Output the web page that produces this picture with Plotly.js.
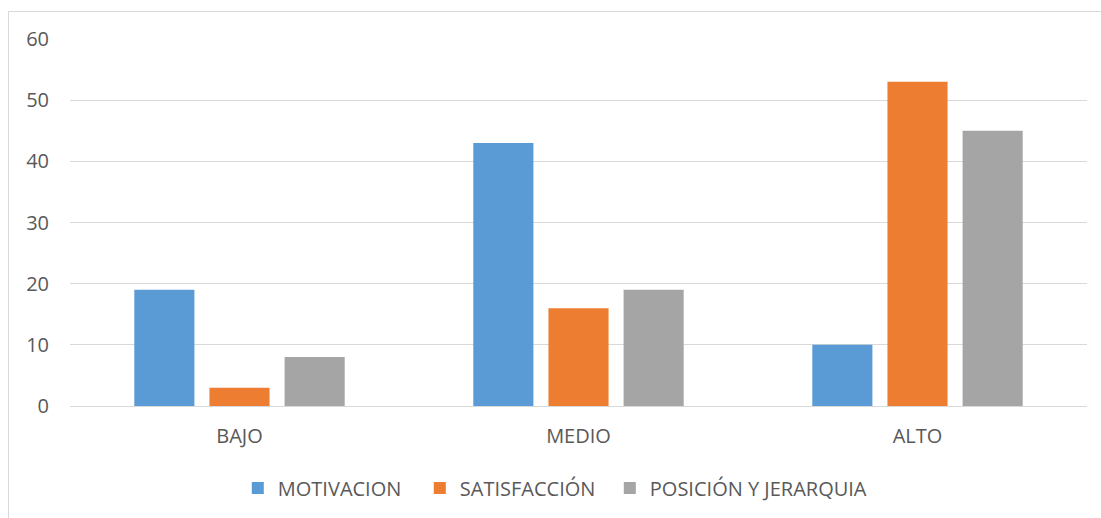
<!DOCTYPE html>
<html>
<head>
<meta charset="utf-8">
<script src="https://cdn.plot.ly/plotly-3.0.1.min.js"></script>
<style>
  html, body { margin: 0; padding: 0; background: #ffffff; overflow: hidden; }
  #frame { position: absolute; left: 8px; top: 11px; width: 1300px; height: 700px;
           border-left: 1px solid #d9d9d9; border-top: 1px solid #d9d9d9; }
  #chart { position: absolute; left: 0; top: 0; width: 1101px; height: 518px; }
</style>
</head>
<body>
<div id="frame"></div>
<div id="chart"></div>
<script>
const categories = ["BAJO", "MEDIO", "ALTO"];
const seriesNames = ["MOTIVACION", "SATISFACCIÓN", "POSICIÓN Y JERARQUIA"];
const motivacion = [19, 43, 10];
const satisfaccion = [3, 16, 53];
const posicion = [8, 19, 45];
const yTicks = [0, 10, 20, 30, 40, 50, 60];

// styles (kept apart from the data)
const colors = ["#5B9BD5", "#ED7D31", "#A5A5A5"];
const legendWidths = [137, 145, null];
const values = [motivacion, satisfaccion, posicion];

const data = values.map((v, i) => {
  const t = {
    type: "bar",
    name: seriesNames[i],
    x: categories,
    y: v,
    marker: { color: colors[i] },
    hoverinfo: "none"
  };
  if (legendWidths[i]) t.legendwidth = legendWidths[i];
  return t;
});

const fontFam = "'Open Sans', 'Noto Sans', sans-serif";

const layout = {
  width: 1101,
  height: 518,
  margin: { l: 70, r: 14, t: 39, b: 111 },
  paper_bgcolor: "rgba(0,0,0,0)",
  plot_bgcolor: "rgba(0,0,0,0)",
  barmode: "group",
  bargap: 0.335,
  bargroupgap: 0.2,
  font: { family: fontFam, color: "#595959", size: 20 },
  xaxis: {
    type: "category",
    showgrid: false,
    showline: false,
    zeroline: false,
    ticks: "",
    tickfont: { size: 20, color: "#595959" },
    ticklabelstandoff: 16
  },
  yaxis: {
    range: [0, 60],
    tickvals: yTicks,
    ticktext: yTicks.map(String),
    showgrid: true,
    gridcolor: "#d9d9d9",
    gridwidth: 1,
    zeroline: true,
    zerolinecolor: "#d9d9d9",
    zerolinewidth: 1,
    showline: false,
    ticks: "",
    tickfont: { size: 20, color: "#595959" },
    ticklabelstandoff: 20
  },
  showlegend: true,
  legend: {
    orientation: "h",
    x: 0.165,
    xanchor: "left",
    y: -0.22,
    yanchor: "middle",
    font: { size: 20, color: "#595959" },
    bgcolor: "rgba(0,0,0,0)"
  }
};

Plotly.newPlot("chart", data, layout, { displayModeBar: false, staticPlot: true });
</script>
</body>
</html>
